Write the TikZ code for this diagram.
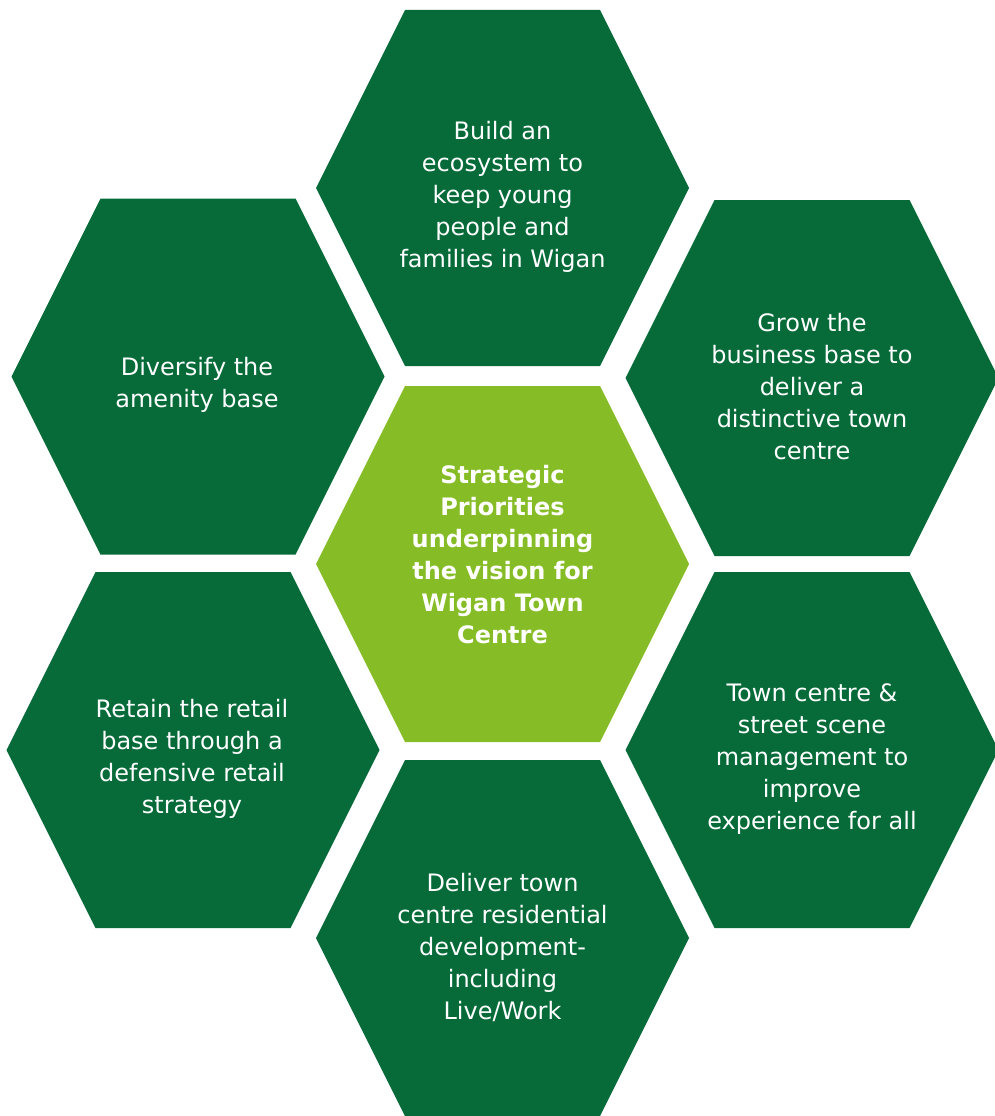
\documentclass[tikz,border=0pt]{standalone}
\usepackage{fontspec}
\setmainfont{DejaVu Sans}

\definecolor{hexdark}{HTML}{066B39}
\definecolor{hexlime}{HTML}{86BC25}

\tikzset{
  hexlabel/.style={text=white, align=center, font=\fontsize{24}{32}\selectfont},
  hexcentre/.style={hexlabel, font=\fontsize{24}{32}\selectfont\bfseries},
}
% hexagon with flat top and bottom, centred at the shift
\newcommand{\hexcell}[3]{%
  \fill [#3, shift={(#1,#2)}] (-186.5,0) -- (-97.5,-178) -- (97.5,-178)
    -- (186.5,0) -- (97.5,178) -- (-97.5,178) -- cycle ;}

\begin{document}
\begin{tikzpicture}[x=1pt, y=-1pt]
\useasboundingbox (0,0) rectangle (995,1116) ;

\hexcell{502.5}{188}{hexdark}
\hexcell{198}{376.5}{hexdark}
\hexcell{812}{378}{hexdark}
\hexcell{502.5}{564}{hexlime}
\hexcell{193}{750}{hexdark}
\hexcell{812}{750}{hexdark}
\hexcell{502.5}{938}{hexdark}

\node [hexlabel] (build) at (502.5,197) {Build an\\ecosystem to\\keep young\\people and\\families in Wigan} ;
\node [hexlabel] (amenity) at (197,385) {Diversify the\\amenity base} ;
\node [hexlabel] (business) at (812,387) {Grow the\\business base to\\deliver a\\distinctive town\\centre} ;
\node [hexcentre] (vision) at (502.5,555) {Strategic\\Priorities\\underpinning\\the vision for\\Wigan Town\\Centre} ;
\node [hexlabel] (retail) at (192,759) {Retain the retail\\base through a\\defensive retail\\strategy} ;
\node [hexlabel] (scene) at (812,759) {Town centre \&\\street scene\\management to\\improve\\experience for all} ;
\node [hexlabel] (living) at (502.5,947) {Deliver town\\centre residential\\development-\\including\\Live/Work} ;
\end{tikzpicture}
\end{document}
